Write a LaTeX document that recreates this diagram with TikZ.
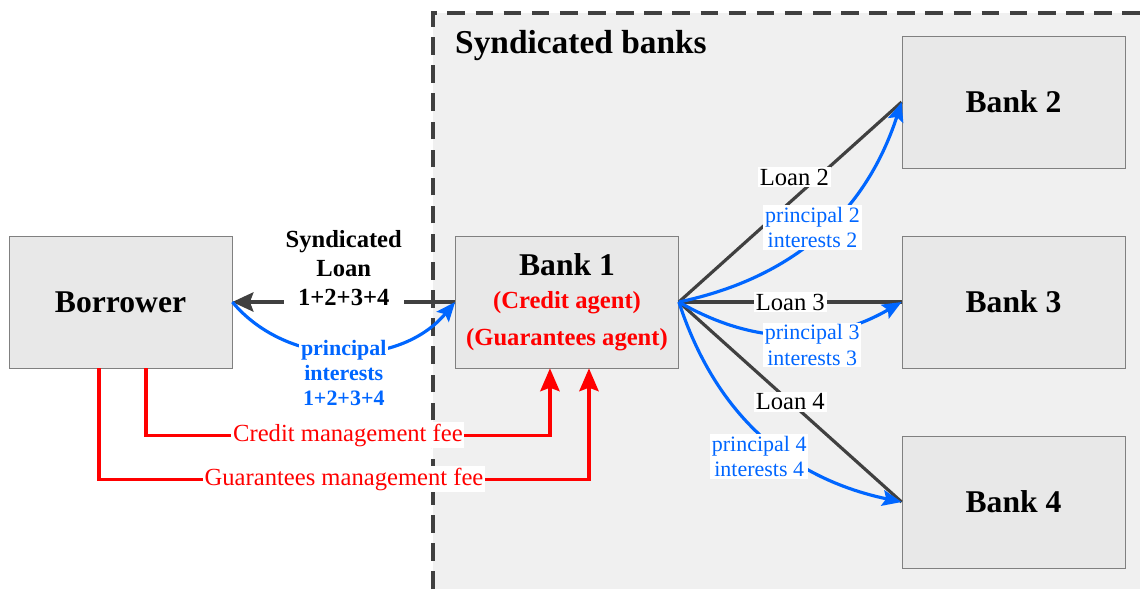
\documentclass[tikz,border=0pt]{standalone}
\usepackage{fontspec}
\setmainfont{Liberation Serif}
\usepackage{tikz}
\usetikzlibrary{arrows.meta, positioning}
\definecolor{edgegray}{HTML}{404040}
\definecolor{boxgray}{HTML}{E8E8E8}
\definecolor{zonegray}{HTML}{F0F0F0}
\definecolor{flowblue}{HTML}{0066FF}
\definecolor{feered}{HTML}{FF0000}
\tikzset{
  bank/.style={draw=gray, fill=boxgray, minimum width=4.46cm, minimum height=2.64cm, inner sep=0pt, font=\fontsize{18}{20}\selectfont\bfseries},
  loan/.style={edgegray, line width=1.8pt},
  repay/.style={flowblue, line width=1.8pt, -{Stealth[length=11pt, width=9pt, inset=2pt]}},
  fee/.style={feered, line width=1.8pt, -{Stealth[length=13pt, width=11pt, inset=2pt]}},
  lbl/.style={fill=white, inner sep=1pt, align=center, text=black},
  loanlbl/.style={lbl, font=\fontsize{14}{16}\selectfont},
  paylbl/.style={lbl, text=flowblue, font=\fontsize{12.5}{14.5}\selectfont}
}

\begin{document}
\begin{tikzpicture}[x=0.2mm, y=-0.2mm, >=Stealth]
        \useasboundingbox (0,0) rectangle (1140,589);

        % Syndicate zone
        \fill[zonegray] (433,13) rectangle (1140,589);
        \draw[edgegray, line width=2pt, dash pattern=on 10pt off 6pt] (433,589) -- (433,13) -- (1140,13);
        \node[anchor=west, font=\fontsize{19}{22}\selectfont\bfseries] (zone) at (449,46) {Syndicated banks};

        % Nodes
        \node[bank] (borrower) at (120.5,302) {Borrower};
        \node[bank, align=center, font=\fontsize{14}{21}\selectfont\bfseries] (b1) at (567,302)
            {{\fontsize{18}{18}\selectfont Bank 1}\\[-2pt]
             \textcolor{feered}{(Credit agent)}\\
             \textcolor{feered}{(Guarantees agent)}};
        \node[bank] (b2) at (1013.5,102) {Bank 2};
        \node[bank] (b3) at (1013.5,302) {Bank 3};
        \node[bank] (b4) at (1013.5,502) {Bank 4};

        % Syndicated loan and repayment
        \draw[loan, ->, >={Stealth[length=12pt, width=11pt, inset=2pt]}] (b1.west) -- (borrower.east)
            node[lbl, midway, anchor=south, yshift=-4pt, font=\fontsize{14}{16.5}\selectfont\bfseries] {Syndicated\\Loan\\1+2+3+4};
        \draw[repay] (borrower.east) to[bend right=50]
            node[lbl, midway, yshift=-12pt, text=flowblue, font=\fontsize{12.5}{14.2}\selectfont\bfseries] {principal\\interests\\1+2+3+4} (b1.west);

        % Loans to the other banks
        \draw[loan] (b1.east) -- (b2.west) node[loanlbl, midway, xshift=2.3pt, yshift=14pt] {Loan 2};
        \draw[loan] (b1.east) -- (b3.west) node[loanlbl, midway] {Loan 3};
        \draw[loan] (b1.east) -- (b4.west) node[loanlbl, midway] {Loan 4};

        % Repayments from the other banks
        \draw[repay] (b1.east) to[bend right=30] node[paylbl, midway, xshift=-4pt, yshift=4pt] {principal 2\\interests 2} (b2.west);
        \draw[repay] (b1.east) to[bend right=30] node[paylbl, midway, xshift=12.5pt, yshift=-6pt] {principal 3\\interests 3} (b3.west);
        \draw[repay] (b1.east) to[bend right=30] node[paylbl, midway, xshift=-1pt, yshift=-12.5pt] {principal 4\\interests 4} (b4.west);

        % Management fees
        \draw[fee] ([xshift=14.5pt]borrower.south) -- ++(0,67) -| node[loanlbl, text=feered, pos=0.25] {Credit management fee} ([xshift=-9.7pt]b1.south);
        \draw[fee] ([xshift=-12.2pt]borrower.south) -- ++(0,111) -| node[loanlbl, text=feered, pos=0.25] {Guarantees management fee} ([xshift=12.5pt]b1.south);
\end{tikzpicture}
\end{document}
